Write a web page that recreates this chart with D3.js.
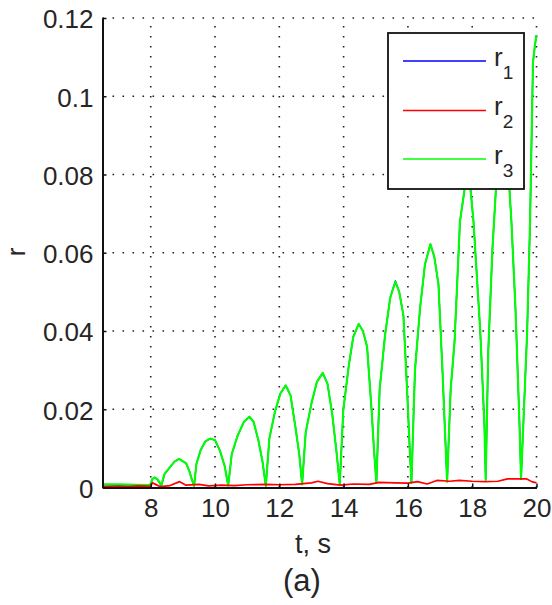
<!DOCTYPE html>
<html>
<head>
<meta charset="utf-8">
<script src="https://cdn.jsdelivr.net/npm/d3@7"></script>
<style>
  html, body { margin: 0; padding: 0; background: #fff; }
  svg { display: block; }
  text { font-family: "Liberation Sans", Arial, Helvetica, sans-serif; fill: #262626; }
</style>
</head>
<body>
<svg id="chart" width="552" height="605"></svg>
<script>
// ---- data ----
const xTicks = [8, 10, 12, 14, 16, 18, 20];
const yTicks = [0, 0.02, 0.04, 0.06, 0.08, 0.1, 0.12];
const yTickLabels = ["0", "0.02", "0.04", "0.06", "0.08", "0.1", "0.12"];
const seriesNames = ["1", "2", "3"];
const seriesColors = ["#0000ff", "#ff0000", "#00ff00"];

// time samples for r1 / r3
const tA = [6.5, 7.0, 7.5, 7.9,
  8.0, 8.05, 8.12, 8.2, 8.28, 8.33,
  8.43, 8.6, 8.74, 8.88, 9.1, 9.2, 9.28, 9.35,
  9.42, 9.55, 9.7, 9.85, 10.0, 10.15, 10.3, 10.41,
  10.52, 10.7, 10.9, 11.07, 11.2, 11.35, 11.48, 11.58,
  11.69, 11.86, 12.03, 12.2, 12.35, 12.5, 12.62, 12.71,
  12.82, 13.0, 13.17, 13.35, 13.5, 13.65, 13.78, 13.88,
  13.99, 14.16, 14.3, 14.47, 14.6, 14.73, 14.87, 14.95, 15.02,
  15.12, 15.29, 15.45, 15.61, 15.73, 15.86, 15.98, 16.05, 16.11,
  16.22, 16.38, 16.53, 16.7, 16.82, 16.95, 17.08, 17.16, 17.22,
  17.33, 17.45, 17.62, 17.83, 17.95, 18.04, 18.25, 18.38, 18.42,
  18.5, 18.63, 18.75, 18.95, 19.1, 19.22, 19.35, 19.47, 19.52,
  19.6, 19.71, 19.8, 19.89, 19.95, 20.0];

const r3 = [0.0008, 0.0008, 0.0007, 0.0006,
  0.0008, 0.0022, 0.0026, 0.0022, 0.0012, 0.0006,
  0.0035, 0.0052, 0.0066, 0.0073, 0.0062, 0.0042, 0.0020, 0.0004,
  0.0060, 0.0095, 0.0118, 0.0125, 0.0121, 0.0095, 0.0055, 0.0005,
  0.0085, 0.0132, 0.0168, 0.0181, 0.0168, 0.0120, 0.0065, 0.0004,
  0.0125, 0.0192, 0.0240, 0.0261, 0.0235, 0.0155, 0.0085, 0.0008,
  0.0140, 0.0215, 0.0270, 0.0293, 0.0265, 0.0185, 0.0090, 0.0008,
  0.0198, 0.0311, 0.0385, 0.0418, 0.0400, 0.0360, 0.0198, 0.0090, 0.0012,
  0.0250, 0.0390, 0.0485, 0.0526, 0.0500, 0.0440, 0.0240, 0.0110, 0.0012,
  0.0300, 0.0460, 0.0570, 0.0622, 0.0590, 0.0520, 0.0290, 0.0130, 0.0015,
  0.0250, 0.0372, 0.0680, 0.0800, 0.0760, 0.0680, 0.0400, 0.0160, 0.0020,
  0.0350, 0.0610, 0.0780, 0.0900, 0.0840, 0.0680, 0.0450, 0.0165, 0.0022,
  0.0180, 0.0400, 0.0680, 0.1085, 0.1130, 0.1156];

const r1 = [0.0003, 0.0004, 0.0003, 0.0003,
  0.0008, 0.0021, 0.0025, 0.0021, 0.0011, 0.0004,
  0.0034, 0.0052, 0.0066, 0.0073, 0.0062, 0.0043, 0.0021, 0.0004,
  0.0060, 0.0095, 0.0118, 0.0125, 0.0121, 0.0095, 0.0055, 0.0005,
  0.0085, 0.0132, 0.0168, 0.0181, 0.0168, 0.0120, 0.0065, 0.0004,
  0.0125, 0.0192, 0.0240, 0.0261, 0.0235, 0.0155, 0.0085, 0.0008,
  0.0140, 0.0215, 0.0270, 0.0293, 0.0265, 0.0185, 0.0090, 0.0008,
  0.0198, 0.0311, 0.0385, 0.0418, 0.0400, 0.0360, 0.0198, 0.0090, 0.0012,
  0.0250, 0.0390, 0.0485, 0.0528, 0.0500, 0.0440, 0.0240, 0.0110, 0.0012,
  0.0300, 0.0460, 0.0570, 0.0622, 0.0590, 0.0520, 0.0290, 0.0130, 0.0015,
  0.0250, 0.0372, 0.0680, 0.0800, 0.0760, 0.0680, 0.0400, 0.0160, 0.0020,
  0.0350, 0.0610, 0.0780, 0.0900, 0.0840, 0.0680, 0.0450, 0.0165, 0.0022,
  0.0180, 0.0400, 0.0680, 0.1085, 0.1130, 0.1156];

// time samples for r2
const tB = [6.5, 7.0, 7.3, 7.6, 8.0, 8.05, 8.15, 8.3, 8.6, 8.9, 9.1, 9.5, 9.8,
  10.2, 10.6, 11.0, 11.6, 12.0, 12.5, 13.0, 13.2, 13.5, 13.9, 14.3, 14.8,
  15.1, 15.6, 16.0, 16.3, 16.6, 16.9, 17.3, 17.6, 18.0, 18.4, 18.8, 19.1,
  19.4, 19.7, 19.85, 20.0];
const r2 = [0.0002, 0.0003, 0.0002, 0.0004, 0.0003, 0.0012, 0.0008, 0.0002,
  0.0005, 0.0015, 0.0006, 0.0008, 0.0004, 0.0006, 0.0005, 0.0007, 0.0008,
  0.0007, 0.0008, 0.0012, 0.0016, 0.0010, 0.0006, 0.0009, 0.0008, 0.0013,
  0.0012, 0.0011, 0.0015, 0.0009, 0.0018, 0.0016, 0.0018, 0.0016, 0.0015,
  0.0016, 0.0022, 0.0022, 0.0022, 0.0015, 0.0012];

// ---- drawing ----
const svg = d3.select("#chart");
const L = 102.5, R = 536.5, T = 18, B = 487.5;
const x = d3.scaleLinear().domain([6.5, 20]).range([L, R]);
const y = d3.scaleLinear().domain([0, 0.12]).range([B, T]);

// grid
const grid = svg.append("g").attr("stroke", "#222").attr("stroke-width", 1.6)
  .attr("stroke-dasharray", "1.6 8.4");
grid.selectAll(".gx").data(xTicks).enter().append("line")
  .attr("x1", d => x(d)).attr("x2", d => x(d)).attr("y1", B).attr("y2", T);
grid.selectAll(".gy").data(yTicks.filter(d => d > 0)).enter().append("line")
  .attr("x1", L).attr("x2", R).attr("y1", d => y(d)).attr("y2", d => y(d));

// lines
const line = (ts) => d3.line().x((d, i) => x(ts[i])).y(d => y(d));
const series = [
  { vals: r1, ts: tA, color: seriesColors[0], w: 1.4 },
  { vals: r2, ts: tB, color: seriesColors[1], w: 1.7 },
  { vals: r3, ts: tA, color: seriesColors[2], w: 2.1 }
];
// draw order: r1 (blue), r3 (green) over it, r2 (red) on top
[series[0], series[2], series[1]].forEach(s => {
  svg.append("path").datum(s.vals)
    .attr("fill", "none").attr("stroke", s.color).attr("stroke-width", s.w)
    .attr("stroke-linejoin", "round")
    .attr("d", line(s.ts));
});

// axes
const xAxis = d3.axisBottom(x).tickValues(xTicks).tickFormat(d3.format("d"))
  .tickSizeInner(-4).tickSizeOuter(0).tickPadding(11);
const yAxis = d3.axisLeft(y).tickValues(yTicks).tickFormat((d, i) => yTickLabels[i])
  .tickSizeInner(-4).tickSizeOuter(0).tickPadding(9);

const gx = svg.append("g").attr("transform", `translate(0,${B})`).call(xAxis);
const gy = svg.append("g").attr("transform", `translate(${L},0)`).call(yAxis);
[gx, gy].forEach(g => {
  g.select(".domain").attr("stroke", "#111").attr("stroke-width", 2);
  g.selectAll(".tick line").attr("stroke", "#111").attr("stroke-width", 1.5);
  g.selectAll(".tick text").attr("font-size", 26).attr("fill", "#262626")
    .style("font-family", '"Liberation Sans", Arial, sans-serif');
});
gy.selectAll(".tick text").attr("dy", "0.38em");
gx.selectAll(".tick text").attr("dy", "0.71em");

// axis labels
svg.append("text").attr("x", 313).attr("y", 553).attr("text-anchor", "middle")
  .attr("font-size", 27).text("t, s");
svg.append("text").attr("transform", "translate(25,252) rotate(-90)")
  .attr("text-anchor", "middle").attr("font-size", 26).text("r");
svg.append("text").attr("x", 302).attr("y", 591).attr("text-anchor", "middle")
  .attr("font-size", 31).text("(a)");

// legend
const lg = svg.append("g");
lg.append("rect").attr("x", 388).attr("y", 33).attr("width", 136).attr("height", 156)
  .attr("fill", "#fff").attr("stroke", "#111").attr("stroke-width", 1.8);
const legY = [61, 110.5, 159];
seriesNames.forEach((n, i) => {
  lg.append("line").attr("x1", 403).attr("x2", 486).attr("y1", legY[i]).attr("y2", legY[i])
    .attr("stroke", seriesColors[i]).attr("stroke-width", 1.7);
  const t = lg.append("text").attr("x", 494).attr("y", legY[i] + 4.5).attr("font-size", 26);
  t.append("tspan").text("r");
  t.append("tspan").attr("font-size", 19).attr("dy", 13).text(n);
});
</script>
</body>
</html>
